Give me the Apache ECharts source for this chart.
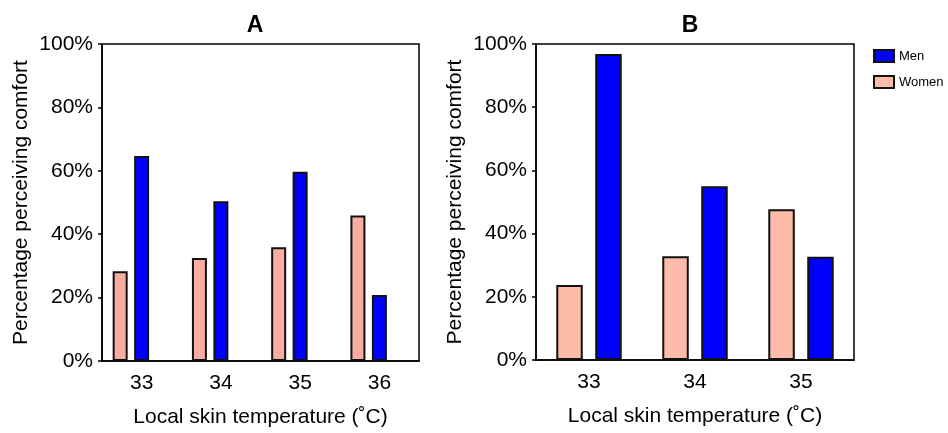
<!DOCTYPE html>
<html>
<head>
<meta charset="utf-8">
<script src="https://cdn.jsdelivr.net/npm/echarts@6/dist/echarts.min.js"></script>
<style>
  html, body { margin: 0; padding: 0; background: #fff; }
  #container { width: 948px; height: 433px; }
</style>
</head>
<body>
<div id="container"></div>
<script>
// panel A
const tempsA = ['33', '34', '35', '36']
const womenA = [28.3, 32.5, 35.9, 45.9]
const menA = [64.7, 50.4, 59.7, 20.8]
// panel B
const tempsB = ['33', '34', '35']
const womenB = [23.7, 32.8, 47.7]
const menB = [96.8, 55.0, 32.7]
const yTicks = [0, 20, 40, 60, 80, 100]

const FONT = '"Liberation Sans", Arial, sans-serif'
const BLUE = '#0000ff'
const PINK_A = '#f9aca2'
const PINK_B = '#fcbca9'

let chart = echarts.init(document.getElementById('container'), null, { renderer: 'canvas' })

function xAxisFor(idx, cats) {
  return {
    type: 'category',
    gridIndex: idx,
    data: cats,
    name: 'Local skin temperature (˚C)',
    nameLocation: 'middle',
    nameGap: 46,
    nameTextStyle: { color: '#000', fontSize: 21, fontFamily: FONT },
    axisTick: { alignWithLabel: true, length: 4, lineStyle: { color: '#000', width: 1.5 } },
    axisLine: { lineStyle: { color: '#000', width: 1.5 } },
    axisLabel: { color: '#000', fontSize: 21, fontFamily: FONT, margin: 12 }
  }
}

function yAxisFor(idx, gap) {
  return {
    type: 'value',
    gridIndex: idx,
    min: yTicks[0],
    max: yTicks[yTicks.length - 1],
    interval: 20,
    name: 'Percentage perceiving comfort',
    nameLocation: 'middle',
    nameRotate: 90,
    nameGap: gap,
    nameTextStyle: { color: '#000', fontSize: 21, fontFamily: FONT },
    splitLine: { show: false },
    axisTick: { show: true, length: 4, lineStyle: { color: '#000', width: 1.5 } },
    axisLine: { show: true, lineStyle: { color: '#000', width: 1.5 } },
    axisLabel: { color: '#000', fontSize: 21, fontFamily: FONT, margin: 9, formatter: '{value}%' }
  }
}

const barBorder = { borderColor: '#111', borderWidth: 2 }

let option = {
  animation: false,
  backgroundColor: '#fff',
  title: [
    { text: 'A', left: 250, top: 9, textAlign: 'center',
      textStyle: { fontSize: 23, fontWeight: 'bold', color: '#000', fontFamily: FONT } },
    { text: 'B', left: 685, top: 9, textAlign: 'center',
      textStyle: { fontSize: 23, fontWeight: 'bold', color: '#000', fontFamily: FONT } }
  ],
  legend: {
    orient: 'vertical',
    left: 868,
    top: 44,
    icon: 'rect',
    itemWidth: 20,
    itemHeight: 12,
    itemGap: 12,
    itemTextGap: 10,
    textStyle: { fontSize: 13, color: '#000', fontFamily: FONT },
    data: [
      { name: 'Men', itemStyle: { color: BLUE, borderColor: '#111', borderWidth: 2 } },
      { name: 'Women', itemStyle: { color: PINK_B, borderColor: '#111', borderWidth: 2 } }
    ]
  },
  grid: [
    { left: 102, top: 44, width: 317, height: 317, show: true, borderColor: '#000', borderWidth: 1.5 },
    { left: 536, top: 44, width: 318, height: 316, show: true, borderColor: '#000', borderWidth: 1.5 }
  ],
  xAxis: [xAxisFor(0, tempsA), xAxisFor(1, tempsB)],
  yAxis: [yAxisFor(0, 70), yAxisFor(1, 70)],
  series: [
    { name: 'Women', type: 'bar', xAxisIndex: 0, yAxisIndex: 0, barWidth: 15, barGap: '43%',
      itemStyle: Object.assign({ color: PINK_A }, barBorder), data: womenA },
    { name: 'Men', type: 'bar', xAxisIndex: 0, yAxisIndex: 0, barWidth: 15, barGap: '43%',
      itemStyle: Object.assign({ color: BLUE }, barBorder), data: menA },
    // empty slot so the men bars sit on the ticks, as in the original
    { name: 'pad', type: 'bar', xAxisIndex: 0, yAxisIndex: 0, barWidth: 15, barGap: '43%', data: [] },
    { name: 'Women', type: 'bar', xAxisIndex: 1, yAxisIndex: 1, barWidth: 26.5, barGap: '47%',
      itemStyle: Object.assign({ color: PINK_B }, barBorder), data: womenB },
    { name: 'Men', type: 'bar', xAxisIndex: 1, yAxisIndex: 1, barWidth: 26.5, barGap: '47%',
      itemStyle: Object.assign({ color: BLUE }, barBorder), data: menB }
  ]
}

option && chart.setOption(option)
</script>
</body>
</html>
